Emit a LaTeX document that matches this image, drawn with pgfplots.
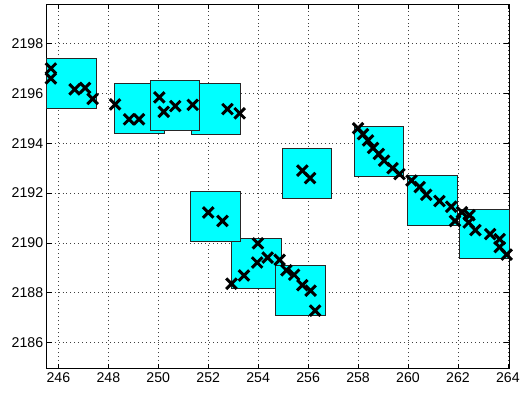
\documentclass[border=0pt]{standalone}
\usepackage{pgfplots}
\pgfplotsset{compat=1.18}
\usepackage{fontspec}
\setmainfont{Liberation Sans}
\definecolor{mcyan}{rgb}{0,1,1}
\begin{document}
\begin{tikzpicture}
\begin{axis}[
  scale only axis,
  width=466bp, height=367.2bp,
  xmin=245.53, xmax=264.05,
  ymin=2184.94, ymax=2199.57,
  xtick={246,248,...,264},
  ytick={2186,2188,...,2198},
  /pgf/number format/assume math mode=true,
  /pgf/number format/1000 sep={},
  tick label style={font=\fontsize{14.3}{16}\selectfont},
  tick align=inside,
  tick pos=both,
  major tick length=5bp,
  grid=major,
  major grid style={black!75, line width=0.5bp, dash pattern=on 1bp off 3bp},
  axis line style={black, line width=0.9bp},
  every tick/.style={black, line width=0.6bp},
  clip=false,
]
% rectangles
\addplot[fill=mcyan, draw=black!85, line width=0.9bp] coordinates {(245.53,2195.41) (247.53,2195.41) (247.53,2197.40) (245.53,2197.40)} -- cycle;
\addplot[fill=mcyan, draw=black!85, line width=0.9bp] coordinates {(248.25,2194.39) (250.25,2194.39) (250.25,2196.38) (248.25,2196.38)} -- cycle;
\addplot[fill=mcyan, draw=black!85, line width=0.9bp] coordinates {(251.32,2194.37) (253.31,2194.37) (253.31,2196.38) (251.32,2196.38)} -- cycle;
\addplot[fill=mcyan, draw=black!85, line width=0.9bp] coordinates {(249.67,2194.51) (251.66,2194.51) (251.66,2196.50) (249.67,2196.50)} -- cycle;
\addplot[fill=mcyan, draw=black!85, line width=0.9bp] coordinates {(252.92,2188.19) (254.92,2188.19) (254.92,2190.17) (252.92,2190.17)} -- cycle;
\addplot[fill=mcyan, draw=black!85, line width=0.9bp] coordinates {(251.29,2190.06) (253.29,2190.06) (253.29,2192.05) (251.29,2192.05)} -- cycle;
\addplot[fill=mcyan, draw=black!85, line width=0.9bp] coordinates {(254.98,2191.77) (256.94,2191.77) (256.94,2193.78) (254.98,2193.78)} -- cycle;
\addplot[fill=mcyan, draw=black!85, line width=0.9bp] coordinates {(254.69,2187.10) (256.70,2187.10) (256.70,2189.09) (254.69,2189.09)} -- cycle;
\addplot[fill=mcyan, draw=black!85, line width=0.9bp] coordinates {(257.84,2192.66) (259.83,2192.66) (259.83,2194.67) (257.84,2194.67)} -- cycle;
\addplot[fill=mcyan, draw=black!85, line width=0.9bp] coordinates {(259.99,2190.70) (261.99,2190.70) (261.99,2192.70) (259.99,2192.70)} -- cycle;
\addplot[fill=mcyan, draw=black!85, line width=0.9bp] coordinates {(262.07,2189.37) (264.05,2189.37) (264.05,2191.36) (262.07,2191.36)} -- cycle;
% markers
\addplot[only marks, mark=x, mark size=7.5bp, mark options={black, line width=3bp}] coordinates {
(245.70,2197.00) (245.70,2196.60) (246.65,2196.16) (247.07,2196.22) (247.37,2195.78)
(248.27,2195.56) (248.83,2194.96) (249.23,2194.96)
(250.04,2195.84) (250.22,2195.26) (250.68,2195.49) (251.38,2195.54)
(252.77,2195.37) (253.26,2195.20)
(252.00,2191.22) (252.57,2190.88)
(252.93,2188.36) (253.43,2188.69) (253.96,2189.21) (253.99,2189.98) (254.38,2189.41) (254.86,2189.32)
(255.13,2188.90) (255.44,2188.72) (255.77,2188.30) (256.10,2188.08) (256.28,2187.28)
(255.77,2192.90) (256.08,2192.60)
(258.00,2194.60) (258.20,2194.36) (258.40,2194.11) (258.60,2193.81) (258.83,2193.57) (259.04,2193.30) (259.38,2193.00) (259.66,2192.76)
(260.14,2192.50) (260.47,2192.24) (260.73,2191.93) (261.26,2191.68) (261.73,2191.45) (261.88,2190.88)
(262.16,2191.23) (262.46,2191.11) (262.43,2190.82) (262.70,2190.51) (263.29,2190.35) (263.67,2190.15) (263.67,2189.83) (263.95,2189.53)
};
\end{axis}
\useasboundingbox (current axis.south west) ++(-47bp,-24.3bp) rectangle ([xshift=10bp,yshift=4.5bp]current axis.north east);
\end{tikzpicture}
\end{document}
